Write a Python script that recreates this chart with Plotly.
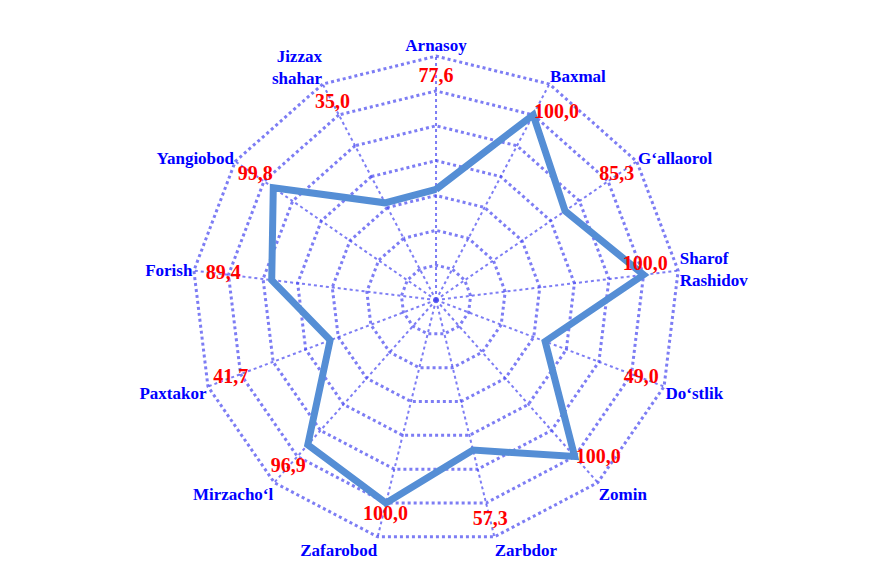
import plotly.graph_objects as go

# ---- data ----
categories = ["Arnasoy", "Baxmal", "G‘allaorol", "Sharof<br>Rashidov", "Do‘stlik",
              "Zomin", "Zarbdor", "Zafarobod", "Mirzacho‘l", "Paxtakor", "Forish",
              "Yangiobod", "Jizzax<br>shahar"]
line_values = [43.5, 100.0, 70.0, 100.0, 47.0, 100.0, 68.7, 100.0, 91.0, 45.0, 75.0, 93.5, 43.0]
label_values = [77.6, 100.0, 85.3, 100.0, 49.0, 100.0, 57.3, 100.0, 96.9, 41.7, 89.4, 99.8, 35.0]
radial_ticks = [0, 20, 40, 60, 80, 100, 120]

# ---- label placement (positions only) ----
label_r = [108, 101, 106, 101, 106, 101, 110, 101, 108, 106, 103, 106, 108]
label_pos = ["middle center", "middle right", "middle center", "top center", "middle center",
             "middle right", "middle center", "bottom center", "middle center", "middle center",
             "middle center", "middle center", "middle center"]
label_text = [f"{v:.1f}".replace(".", ",") for v in label_values]

grid_col = "rgba(70,70,240,0.7)"

fig = go.Figure()
fig.add_trace(go.Scatterpolar(
    r=line_values + line_values[:1],
    theta=categories + categories[:1],
    mode="lines",
    line=dict(color="#558ED5", width=7),
    hoverinfo="skip",
    showlegend=False,
))
fig.add_trace(go.Scatterpolar(
    r=label_r,
    theta=categories,
    mode="text",
    text=label_text,
    textposition=label_pos,
    textfont=dict(family="Liberation Serif", size=20, color="#FF0000", weight="bold"),
    hoverinfo="skip",
    showlegend=False,
))

fig.update_layout(
    width=872, height=574,
    margin=dict(l=0, r=0, t=0, b=0),
    paper_bgcolor="white",
    polar=dict(
        domain=dict(x=[0.2099, 0.7718], y=[0.0645, 0.918]),
        bgcolor="white",
        gridshape="linear",
        radialaxis=dict(
            range=[-20, 120.6],
            tickvals=radial_ticks,
            showticklabels=False,
            ticks="",
            showline=False,
            gridcolor=grid_col,
            gridwidth=3,
            griddash="dot",
        ),
        angularaxis=dict(
            type="category",
            rotation=90,
            direction="clockwise",
            showline=False,
            ticks="",
            gridcolor=grid_col,
            gridwidth=2,
            griddash="dot",
            tickfont=dict(family="Liberation Serif", size=17, color="#0000FF", weight="bold"),
        ),
    ),
)

fig.write_html("out.html")
